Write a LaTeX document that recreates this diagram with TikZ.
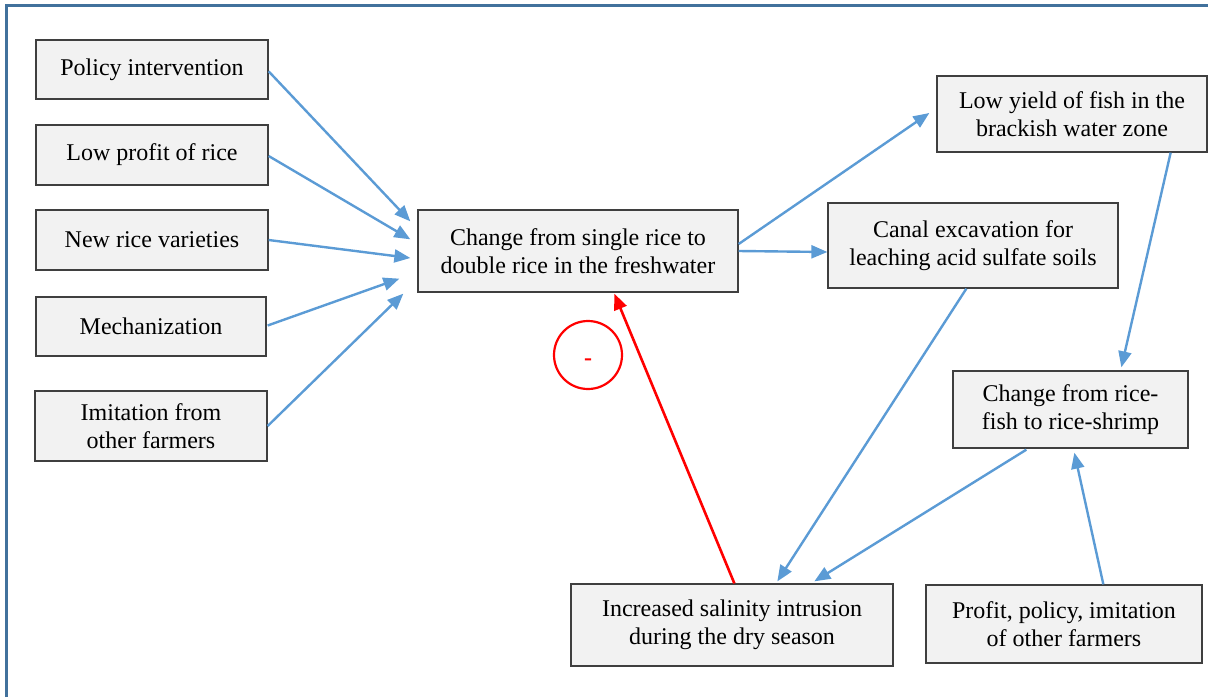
\documentclass[tikz,border=0pt]{standalone}
\usepackage{fontspec}
\setmainfont{Liberation Serif}
\usetikzlibrary{arrows.meta,calc}
\definecolor{arrblue}{HTML}{5B9BD5}
\definecolor{frameblue}{HTML}{41719C}
\definecolor{boxfill}{HTML}{F2F2F2}
\definecolor{boxline}{HTML}{3F3F3F}
\tikzset{
  box/.style={draw=boxline, line width=1.3pt, fill=boxfill, inner sep=0pt, align=center,
    font=\fontsize{24}{27.5}\selectfont},
  arr/.style={draw=arrblue, line width=2.4pt, -{Triangle[length=16pt,width=13pt]}},
  redarr/.style={draw=red, line width=2.6pt, -{Triangle[length=16pt,width=13pt]}},
  frame/.style={draw=frameblue, line width=3pt}
}
\begin{document}
\begin{tikzpicture}[x=1pt,y=-1pt]
\useasboundingbox (0,0) rectangle (1208,697);
\draw[frame] (6.5,697) -- (6.5,5.5) -- (1210,5.5);

\node[box, minimum width=232pt, minimum height=59pt] (pol) at (152,69.5) {Policy intervention};
\node[box, minimum width=232pt, minimum height=60pt] (lowp) at (152,155) {Low profit of rice};
\node[box, minimum width=232pt, minimum height=60pt] (newr) at (152,240) {New rice varieties};
\node[box, minimum width=230pt, minimum height=59pt] (mech) at (151,326.5) {Mechanization};
\node[box, minimum width=232pt, minimum height=70pt] (imit) at (151,426) {Imitation from\\other farmers};
\node[box, minimum width=320pt, minimum height=82pt] (cent) at (578,251) {Change from single rice to\\double rice in the freshwater};
\node[box, minimum width=270pt, minimum height=76pt] (lowy) at (1072,114) {Low yield of fish in the\\brackish water zone};
\node[box, minimum width=290pt, minimum height=85pt] (canal) at (973,245.5) {Canal excavation for\\leaching acid sulfate soils};
\node[box, minimum width=235pt, minimum height=77pt] (rfish) at (1070.5,409.5) {Change from rice-\\fish to rice-shrimp};
\node[box, minimum width=322pt, minimum height=82pt] (sal) at (732,625) {Increased salinity intrusion\\during the dry season};
\node[box, minimum width=276pt, minimum height=78pt] (prof) at (1064,624) {Profit, policy, imitation\\of other farmers};

\node[draw=red, line width=2.2pt, circle, minimum size=68pt, inner sep=0pt, text=red,
  text height=20pt, text depth=0pt,
  font=\fontsize{24}{24}\selectfont\bfseries] (minus) at (588,355) {-};

\draw[arr] ($(pol.north east)+(0,32)$) -- ($(cent.north west)+(-7,12)$);
\draw[arr] ($(lowp.east)+(0,1)$) -- ($(cent.north west)+(-7,30)$);
\draw[arr] (newr.east) -- ($(cent.west)+(-7,7)$);
\draw[arr] ($(mech.east)+(1,-1)$) -- ($(cent.south west)+(-18,-14)$);
\draw[arr] (imit.east) -- ($(cent.south west)+(-14,1)$);
\draw[arr] ($(cent.east)+(0,-7)$) -- ($(lowy.west)+(-7,-1)$);
\draw[arr] (cent.east) -- ($(canal.west)+(0,6.5)$);
\draw[arr] ($(lowy.south east)+(-37,0)$) -- ($(rfish.north west)+(169,-3)$);
\draw[arr] ($(canal.south west)+(139,0)$) -- ($(sal.north west)+(207,-2)$);
\draw[arr] ($(rfish.south west)+(74,1)$) -- ($(sal.north west)+(244,-2)$);
\draw[arr] ($(prof.north west)+(178,0)$) -- ($(rfish.south west)+(122,4)$);
\draw[redarr] ($(sal.north west)+(164,0)$) -- ($(cent.south west)+(197,1)$);
\end{tikzpicture}
\end{document}
